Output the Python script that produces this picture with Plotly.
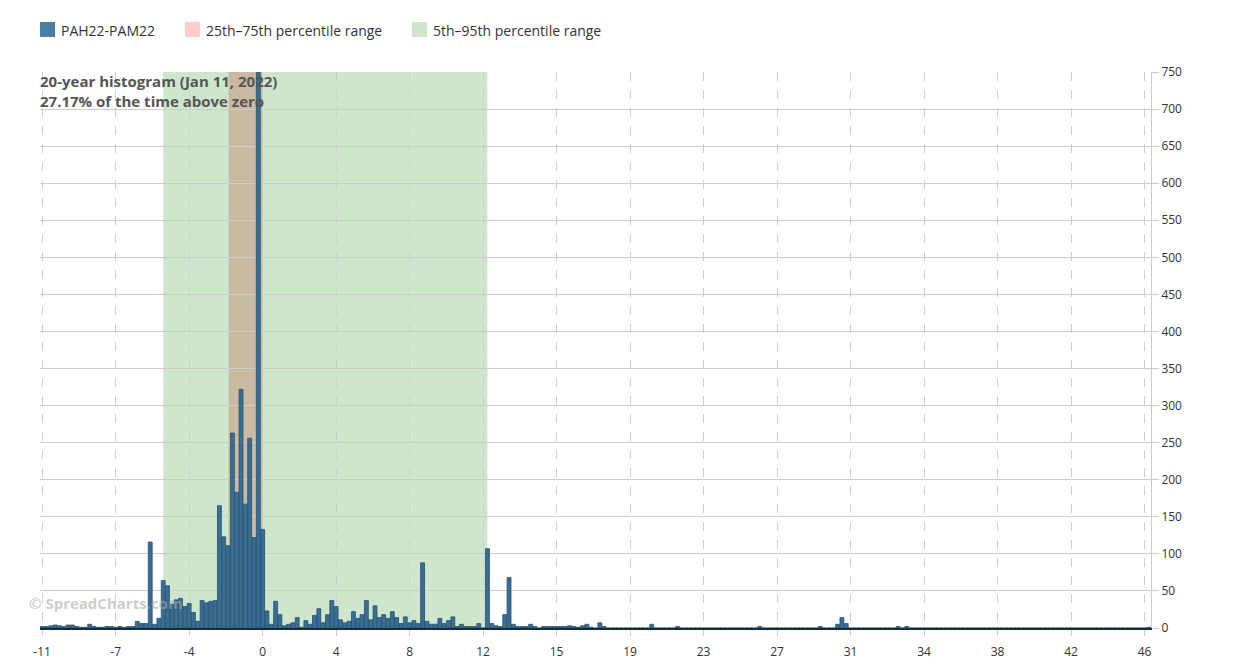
"""PAH22-PAM22 20-year spread histogram."""

import plotly.graph_objects as go

# bins: first bin centre and width (labelled axis runs -11 .. 46)
BIN_START = -11.0
BIN_WIDTH = 57 / 255

COUNTS = [
    2, 2, 3, 4, 3, 2, 4, 4, 2, 1,
    1, 5, 2, 1, 1, 2, 2, 1, 2, 1,
    2, 2, 9, 6, 6, 116, 5, 13, 64, 57,
    32, 38, 40, 29, 33, 21, 9, 37, 34, 36,
    37, 165, 123, 111, 263, 183, 322, 167, 256, 122,
    2400, 133, 23, 5, 36, 18, 3, 5, 7, 14,
    1, 10, 5, 17, 26, 7, 18, 37, 29, 11,
    7, 9, 22, 13, 18, 37, 11, 30, 14, 18,
    13, 22, 14, 6, 15, 7, 10, 6, 88, 9,
    5, 5, 13, 6, 10, 15, 2, 5, 2, 2,
    2, 6, 0, 107, 6, 3, 2, 18, 68, 5,
    2, 2, 2, 5, 2, 0, 2, 2, 2, 2,
    2, 2, 3, 2, 1, 3, 5, 1, 0, 7,
    2, 0, 0, 0, 0, 0, 0, 0, 0, 0,
    0, 5, 0, 0, 0, 0, 0, 2, 0, 0,
    0, 0, 0, 0, 0, 0, 0, 0, 0, 0,
    0, 0, 0, 0, 0, 0, 2, 0, 0, 0,
    0, 0, 0, 0, 0, 0, 0, 0, 0, 0,
    2, 0, 0, 0, 5, 14, 6, 0, 0, 0,
    0, 0, 0, 0, 0, 0, 0, 0, 2, 0,
    2, 0, 0, 0, 0, 0, 0, 0, 0, 0,
    0, 0, 0, 0, 0, 0, 0, 0, 0, 0,
    0, 0, 0, 0, 0, 0, 0, 0, 0, 0,
    0, 0, 0, 0, 0, 0, 0, 0, 0, 0,
    0, 0, 0, 0, 0, 0, 0, 0, 0, 0,
    0, 0, 0, 0, 0, 0, 1,
]

TICK_LABELS = ["-11", "-7", "-4", "0", "4", "8", "12", "15",
               "19", "23", "27", "31", "34", "38", "42", "46"]
TICK_EVERY = 17

P5, P95 = -4.74, 12.02
P25, P75 = -1.36, 0.40

SERIES_NAME = "PAH22-PAM22"
ABOVE_ZERO = 27.17
AS_OF = "Jan 11, 2022"

x = [BIN_START + i * BIN_WIDTH for i in range(len(COUNTS))]
tickvals = [x[i] for i in range(0, len(COUNTS), TICK_EVERY)][:len(TICK_LABELS)]

FONT = "Open Sans, Noto Sans, sans-serif"
BAR_COLOR = "#3a6d93"
PINK = "#ffcccc"
GREEN = "#cde6cc"
TAN = "#c9b9a0"

fig = go.Figure()

fig.add_trace(go.Bar(
    x=x, y=COUNTS, name=SERIES_NAME, showlegend=False,
    marker=dict(color=BAR_COLOR, line=dict(color="#22506f", width=0.8)),
))

fig.add_vrect(x0=P5, x1=P95, fillcolor=GREEN, opacity=1,
              line_width=0, layer="below")
fig.add_vrect(x0=P25, x1=P75, fillcolor=TAN, opacity=1,
              line_width=0, layer="below")

# hand-made legend row above the plot (paper coords)
legend_items = [
    (SERIES_NAME, "#4a7fa3", 0.0),
    ("25th–75th percentile range", PINK, 0.1305),
    ("5th–95th percentile range", GREEN, 0.3348),
]
for label, color, x0 in legend_items:
    fig.add_shape(type="rect", xref="paper", yref="paper",
                  x0=x0, x1=x0 + 0.0135, y0=1.0629, y1=1.0899,
                  fillcolor=color, line_width=0)
    fig.add_annotation(text=label, xref="paper", yref="paper",
                       x=x0 + 0.0175, y=1.0755, xanchor="left", yanchor="middle",
                       showarrow=False,
                       font=dict(family=FONT, size=14, color="#333333"))

fig.add_annotation(
    text=f"<b>20-year histogram ({AS_OF})<br>{ABOVE_ZERO}% of the time above zero</b>",
    xref="paper", yref="paper", x=-0.002, y=1.006, xanchor="left", yanchor="top",
    align="left", showarrow=False,
    font=dict(family=FONT, size=15, color="#555555"),
)
fig.add_annotation(
    text="<b>© SpreadCharts.com</b>",
    xref="paper", yref="paper", x=-0.012, y=0.045,
    xanchor="left", yanchor="middle", showarrow=False,
    font=dict(family=FONT, size=15, color="rgba(170,170,170,0.6)"),
)

fig.update_xaxes(
    range=[x[0] - BIN_WIDTH / 2, x[-1] + BIN_WIDTH / 2],
    tickmode="array", tickvals=tickvals, ticktext=TICK_LABELS,
    showgrid=True, gridcolor="#cfcfcf", griddash="dash", gridwidth=1,
    ticks="outside", ticklen=6, tickcolor="#cfcfcf", ticklabelstandoff=6,
    showline=True, linecolor="#1d2b36", linewidth=1.5, automargin=False,
    zeroline=False, tickfont=dict(family=FONT, size=12, color="#333333"),
)
fig.update_yaxes(
    side="right", range=[0, 750], dtick=50,
    showgrid=True, gridcolor="#cccccc", gridwidth=1,
    ticks="outside", ticklen=7, tickcolor="#cccccc",
    showline=True, linecolor="#cccccc", linewidth=1, automargin=False,
    zeroline=False, tickfont=dict(family=FONT, size=12, color="#333333"),
)

# page body keeps its default 8px margin, so the figure is 8px smaller
fig.update_layout(
    width=1226, height=656,
    margin=dict(l=32, r=83, t=64, b=36),
    plot_bgcolor="white", paper_bgcolor="white",
    bargap=0.1,
    font=dict(family=FONT, size=14, color="#333333"),
    showlegend=False,
)

fig.write_html("out.html")
